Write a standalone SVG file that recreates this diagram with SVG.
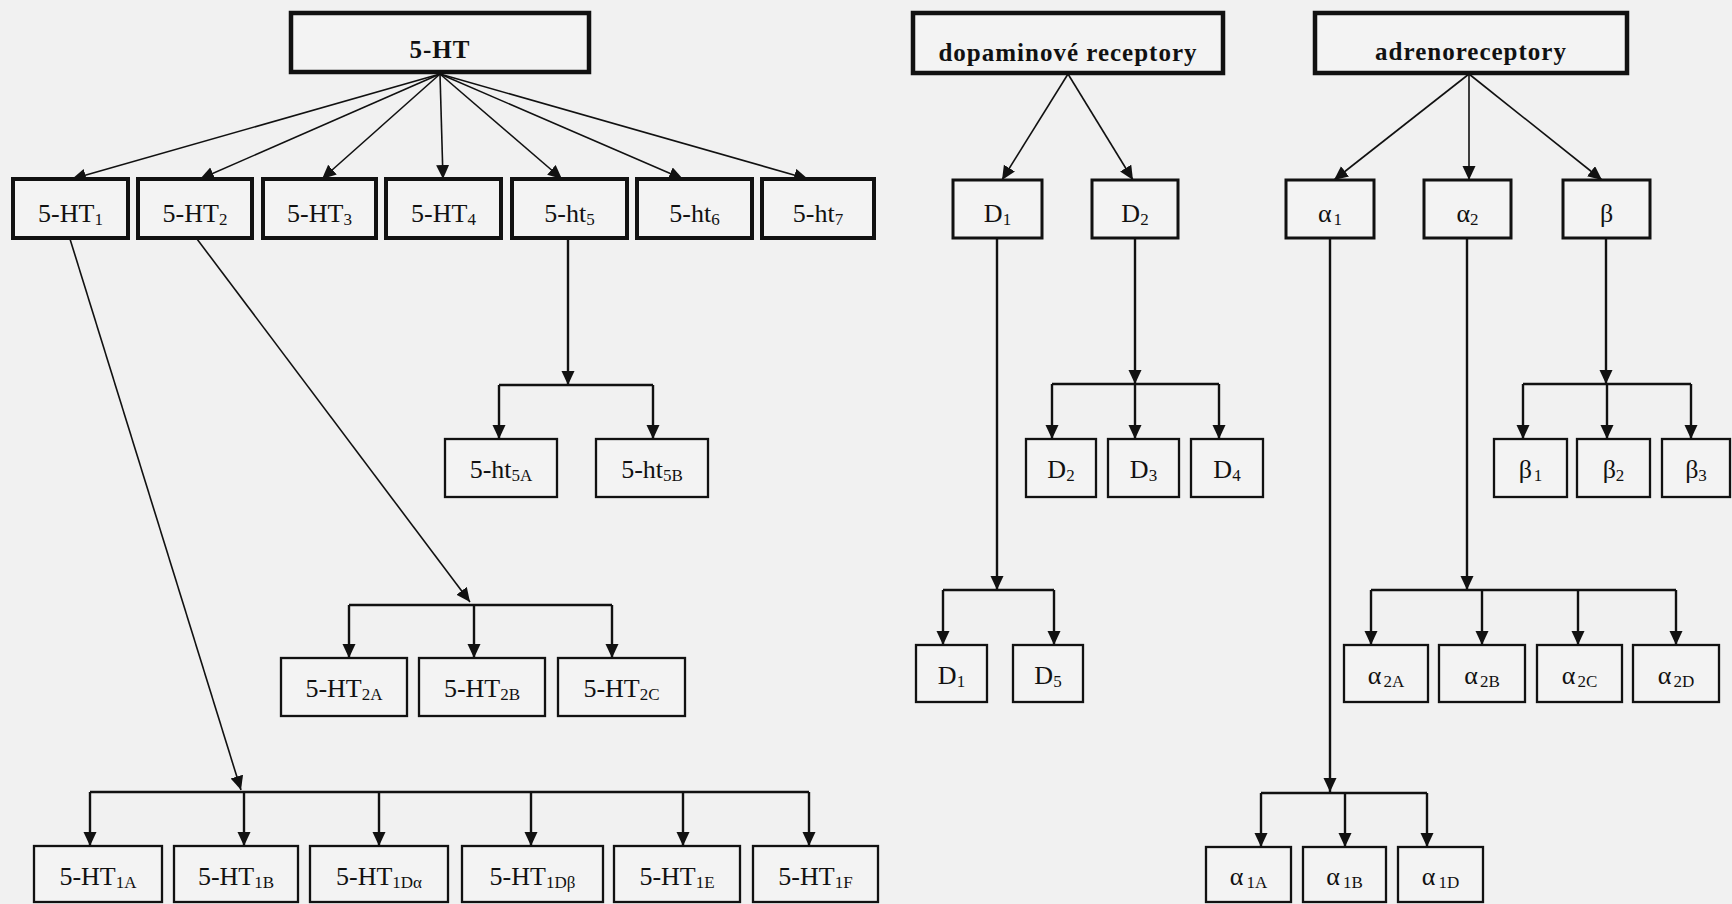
<svg xmlns="http://www.w3.org/2000/svg" width="1732" height="904" viewBox="0 0 1732 904">
<style>
.bg{fill:#f1f1f1}
.root{fill:#f3f3f3;stroke:#111;stroke-width:4.5}
.n1{fill:#f3f3f3;stroke:#111;stroke-width:4}
.n1b{fill:#f3f3f3;stroke:#111;stroke-width:3}
.n2{fill:#f3f3f3;stroke:#111;stroke-width:2.3}
.t{font-family:"Liberation Serif","Times New Roman",serif;font-size:26px;text-anchor:middle;fill:#111}
.tb{font-family:"Liberation Serif","Times New Roman",serif;font-size:25px;font-weight:bold;text-anchor:middle;fill:#111;letter-spacing:1px}
.s{font-size:17px}
.thin{fill:none;stroke:#111;stroke-width:1.6}
.bus{fill:none;stroke:#111;stroke-width:2.4}
</style>
<defs>
<marker id="ah" markerUnits="userSpaceOnUse" markerWidth="15" markerHeight="14" refX="14" refY="6.5" orient="auto">
<path d="M0,0 L14,6.5 L0,13 z" fill="#111"/>
</marker>
</defs>
<rect class="bg" x="0" y="0" width="1732" height="904"/>

<g id="connectors">
<!-- from 5-HT -->
<line class="thin" x1="440" y1="74" x2="72" y2="179" marker-end="url(#ah)"/>
<line class="thin" x1="440" y1="74" x2="200" y2="179" marker-end="url(#ah)"/>
<line class="thin" x1="440" y1="74" x2="322" y2="179" marker-end="url(#ah)"/>
<line class="thin" x1="440" y1="74" x2="443" y2="179" marker-end="url(#ah)"/>
<line class="thin" x1="440" y1="74" x2="562" y2="179" marker-end="url(#ah)"/>
<line class="thin" x1="440" y1="74" x2="683" y2="179" marker-end="url(#ah)"/>
<line class="thin" x1="440" y1="74" x2="808" y2="179" marker-end="url(#ah)"/>
<!-- long lines -->
<line class="thin" x1="70" y1="239" x2="241" y2="790" marker-end="url(#ah)"/>
<line class="thin" x1="197" y1="239" x2="470" y2="602" marker-end="url(#ah)"/>
<line class="bus" x1="568" y1="239" x2="568" y2="385" marker-end="url(#ah)"/>
<!-- 5-HT1 bus -->
<path class="bus" d="M90,792 H809"/>
<line class="bus" x1="90" y1="792" x2="90" y2="846" marker-end="url(#ah)"/>
<line class="bus" x1="244" y1="792" x2="244" y2="846" marker-end="url(#ah)"/>
<line class="bus" x1="379" y1="792" x2="379" y2="846" marker-end="url(#ah)"/>
<line class="bus" x1="531" y1="792" x2="531" y2="846" marker-end="url(#ah)"/>
<line class="bus" x1="683" y1="792" x2="683" y2="846" marker-end="url(#ah)"/>
<line class="bus" x1="809" y1="792" x2="809" y2="846" marker-end="url(#ah)"/>
<!-- 5-HT2 bus -->
<path class="bus" d="M349,605 H612"/>
<line class="bus" x1="349" y1="605" x2="349" y2="658" marker-end="url(#ah)"/>
<line class="bus" x1="474" y1="605" x2="474" y2="658" marker-end="url(#ah)"/>
<line class="bus" x1="612" y1="605" x2="612" y2="658" marker-end="url(#ah)"/>
<!-- 5-ht5 bus -->
<path class="bus" d="M499,385 H653"/>
<line class="bus" x1="499" y1="385" x2="499" y2="439" marker-end="url(#ah)"/>
<line class="bus" x1="653" y1="385" x2="653" y2="439" marker-end="url(#ah)"/>

<!-- dopamine -->
<line class="thin" x1="1068" y1="74" x2="1002" y2="180" marker-end="url(#ah)"/>
<line class="thin" x1="1068" y1="74" x2="1133" y2="180" marker-end="url(#ah)"/>
<line class="bus" x1="997" y1="239" x2="997" y2="590" marker-end="url(#ah)"/>
<line class="bus" x1="1135" y1="239" x2="1135" y2="384" marker-end="url(#ah)"/>
<path class="bus" d="M943,590 H1054"/>
<line class="bus" x1="943" y1="590" x2="943" y2="645" marker-end="url(#ah)"/>
<line class="bus" x1="1054" y1="590" x2="1054" y2="645" marker-end="url(#ah)"/>
<path class="bus" d="M1052,384 H1219"/>
<line class="bus" x1="1052" y1="384" x2="1052" y2="439" marker-end="url(#ah)"/>
<line class="bus" x1="1135" y1="384" x2="1135" y2="439" marker-end="url(#ah)"/>
<line class="bus" x1="1219" y1="384" x2="1219" y2="439" marker-end="url(#ah)"/>

<!-- adreno -->
<line class="thin" x1="1469" y1="74" x2="1334" y2="180" marker-end="url(#ah)"/>
<line class="thin" x1="1469" y1="74" x2="1469" y2="180" marker-end="url(#ah)"/>
<line class="thin" x1="1469" y1="74" x2="1602" y2="180" marker-end="url(#ah)"/>
<line class="bus" x1="1330" y1="239" x2="1330" y2="792" marker-end="url(#ah)"/>
<line class="bus" x1="1467" y1="239" x2="1467" y2="590" marker-end="url(#ah)"/>
<line class="bus" x1="1606" y1="239" x2="1606" y2="384" marker-end="url(#ah)"/>
<path class="bus" d="M1261,793 H1427"/>
<line class="bus" x1="1261" y1="793" x2="1261" y2="847" marker-end="url(#ah)"/>
<line class="bus" x1="1345" y1="793" x2="1345" y2="847" marker-end="url(#ah)"/>
<line class="bus" x1="1427" y1="793" x2="1427" y2="847" marker-end="url(#ah)"/>
<path class="bus" d="M1371,590 H1676"/>
<line class="bus" x1="1371" y1="590" x2="1371" y2="645" marker-end="url(#ah)"/>
<line class="bus" x1="1482" y1="590" x2="1482" y2="645" marker-end="url(#ah)"/>
<line class="bus" x1="1578" y1="590" x2="1578" y2="645" marker-end="url(#ah)"/>
<line class="bus" x1="1676" y1="590" x2="1676" y2="645" marker-end="url(#ah)"/>
<path class="bus" d="M1523,384 H1691"/>
<line class="bus" x1="1523" y1="384" x2="1523" y2="439" marker-end="url(#ah)"/>
<line class="bus" x1="1607" y1="384" x2="1607" y2="439" marker-end="url(#ah)"/>
<line class="bus" x1="1691" y1="384" x2="1691" y2="439" marker-end="url(#ah)"/>
</g>

<!-- roots -->
<g id="n-5HT"><rect class="root" x="291" y="13" width="298" height="59"/><text class="tb" x="440" y="58">5-HT</text></g>
<g id="n-dopa"><rect class="root" x="913" y="13" width="310" height="60"/><text class="tb" x="1068" y="61">dopaminové receptory</text></g>
<g id="n-adreno"><rect class="root" x="1315" y="13" width="312" height="60"/><text class="tb" x="1471" y="60">adrenoreceptory</text></g>

<!-- row 1 serotonin -->
<g id="n-5HT1"><rect class="n1" x="13" y="179" width="115" height="59"/><text class="t" x="70.5" y="222">5-HT<tspan class="s" dy="3">1</tspan></text></g>
<g id="n-5HT2"><rect class="n1" x="138" y="179" width="114" height="59"/><text class="t" x="195" y="222">5-HT<tspan class="s" dy="3">2</tspan></text></g>
<g id="n-5HT3"><rect class="n1" x="263" y="179" width="113" height="59"/><text class="t" x="319.5" y="222">5-HT<tspan class="s" dy="3">3</tspan></text></g>
<g id="n-5HT4"><rect class="n1" x="386" y="179" width="115" height="59"/><text class="t" x="443.5" y="222">5-HT<tspan class="s" dy="3">4</tspan></text></g>
<g id="n-5ht5"><rect class="n1" x="512" y="179" width="115" height="59"/><text class="t" x="569.5" y="222">5-ht<tspan class="s" dy="3">5</tspan></text></g>
<g id="n-5ht6"><rect class="n1" x="637" y="179" width="115" height="59"/><text class="t" x="694.5" y="222">5-ht<tspan class="s" dy="3">6</tspan></text></g>
<g id="n-5ht7"><rect class="n1" x="762" y="179" width="112" height="59"/><text class="t" x="818" y="222">5-ht<tspan class="s" dy="3">7</tspan></text></g>

<!-- row 1 dopamine / adreno -->
<g id="n-D1"><rect class="n1b" x="953" y="180" width="89" height="58"/><text class="t" x="997.5" y="222">D<tspan class="s" dy="3">1</tspan></text></g>
<g id="n-D2"><rect class="n1b" x="1092" y="180" width="86" height="58"/><text class="t" x="1135" y="222">D<tspan class="s" dy="3">2</tspan></text></g>
<g id="n-a1"><rect class="n1b" x="1286" y="180" width="88" height="58"/><text class="t" x="1330" y="222">α<tspan class="s" dx="2" dy="3">1</tspan></text></g>
<g id="n-a2"><rect class="n1b" x="1424" y="180" width="87" height="58"/><text class="t" x="1467.5" y="222">α<tspan class="s" dy="3">2</tspan></text></g>
<g id="n-b"><rect class="n1b" x="1563" y="180" width="87" height="58"/><text class="t" x="1606.5" y="222">β</text></g>

<!-- 5-ht5 children -->
<g id="n-5ht5A"><rect class="n2" x="445" y="439" width="112" height="58"/><text class="t" x="501" y="478">5-ht<tspan class="s" dy="3">5A</tspan></text></g>
<g id="n-5ht5B"><rect class="n2" x="596" y="439" width="112" height="58"/><text class="t" x="652" y="478">5-ht<tspan class="s" dy="3">5B</tspan></text></g>

<!-- 5-HT2 children -->
<g id="n-5HT2A"><rect class="n2" x="281" y="658" width="126" height="58"/><text class="t" x="344" y="697">5-HT<tspan class="s" dy="3">2A</tspan></text></g>
<g id="n-5HT2B"><rect class="n2" x="419" y="658" width="126" height="58"/><text class="t" x="482" y="697">5-HT<tspan class="s" dy="3">2B</tspan></text></g>
<g id="n-5HT2C"><rect class="n2" x="558" y="658" width="127" height="58"/><text class="t" x="621.5" y="697">5-HT<tspan class="s" dy="3">2C</tspan></text></g>

<!-- 5-HT1 children -->
<g id="n-5HT1A"><rect class="n2" x="34" y="846" width="128" height="56"/><text class="t" x="98" y="885">5-HT<tspan class="s" dy="3">1A</tspan></text></g>
<g id="n-5HT1B"><rect class="n2" x="174" y="846" width="124" height="56"/><text class="t" x="236" y="885">5-HT<tspan class="s" dy="3">1B</tspan></text></g>
<g id="n-5HT1Da"><rect class="n2" x="310" y="846" width="138" height="56"/><text class="t" x="379" y="885">5-HT<tspan class="s" dy="3">1Dα</tspan></text></g>
<g id="n-5HT1Db"><rect class="n2" x="462" y="846" width="141" height="56"/><text class="t" x="532.5" y="885">5-HT<tspan class="s" dy="3">1Dβ</tspan></text></g>
<g id="n-5HT1E"><rect class="n2" x="614" y="846" width="126" height="56"/><text class="t" x="677" y="885">5-HT<tspan class="s" dy="3">1E</tspan></text></g>
<g id="n-5HT1F"><rect class="n2" x="753" y="846" width="125" height="56"/><text class="t" x="815.5" y="885">5-HT<tspan class="s" dy="3">1F</tspan></text></g>

<!-- dopamine children -->
<g id="n-D2b"><rect class="n2" x="1026" y="439" width="70" height="58"/><text class="t" x="1061" y="478">D<tspan class="s" dy="3">2</tspan></text></g>
<g id="n-D3"><rect class="n2" x="1108" y="439" width="71" height="58"/><text class="t" x="1143.5" y="478">D<tspan class="s" dy="3">3</tspan></text></g>
<g id="n-D4"><rect class="n2" x="1191" y="439" width="72" height="58"/><text class="t" x="1227" y="478">D<tspan class="s" dy="3">4</tspan></text></g>
<g id="n-D1b"><rect class="n2" x="916" y="645" width="71" height="57"/><text class="t" x="951.5" y="684">D<tspan class="s" dy="3">1</tspan></text></g>
<g id="n-D5"><rect class="n2" x="1013" y="645" width="70" height="57"/><text class="t" x="1048" y="684">D<tspan class="s" dy="3">5</tspan></text></g>

<!-- adreno children -->
<g id="n-b1"><rect class="n2" x="1494" y="439" width="73" height="58"/><text class="t" x="1530.5" y="478">β<tspan class="s" dx="2" dy="3">1</tspan></text></g>
<g id="n-b2"><rect class="n2" x="1577" y="439" width="73" height="58"/><text class="t" x="1613.5" y="478">β<tspan class="s" dy="3">2</tspan></text></g>
<g id="n-b3"><rect class="n2" x="1662" y="439" width="68" height="58"/><text class="t" x="1696" y="478">β<tspan class="s" dy="3">3</tspan></text></g>
<g id="n-a2A"><rect class="n2" x="1344" y="645" width="84" height="57"/><text class="t" x="1386" y="684">α<tspan class="s" dx="2" dy="3">2A</tspan></text></g>
<g id="n-a2B"><rect class="n2" x="1439" y="645" width="86" height="57"/><text class="t" x="1482" y="684">α<tspan class="s" dx="2" dy="3">2B</tspan></text></g>
<g id="n-a2C"><rect class="n2" x="1537" y="645" width="85" height="57"/><text class="t" x="1579.5" y="684">α<tspan class="s" dx="2" dy="3">2C</tspan></text></g>
<g id="n-a2D"><rect class="n2" x="1633" y="645" width="86" height="57"/><text class="t" x="1676" y="684">α<tspan class="s" dx="2" dy="3">2D</tspan></text></g>
<g id="n-a1A"><rect class="n2" x="1206" y="847" width="85" height="55"/><text class="t" x="1248.5" y="885">α<tspan class="s" dx="3" dy="3">1A</tspan></text></g>
<g id="n-a1B"><rect class="n2" x="1303" y="847" width="83" height="55"/><text class="t" x="1344.5" y="885">α<tspan class="s" dx="3" dy="3">1B</tspan></text></g>
<g id="n-a1D"><rect class="n2" x="1398" y="847" width="85" height="55"/><text class="t" x="1440.5" y="885">α<tspan class="s" dx="3" dy="3">1D</tspan></text></g>
</svg>
